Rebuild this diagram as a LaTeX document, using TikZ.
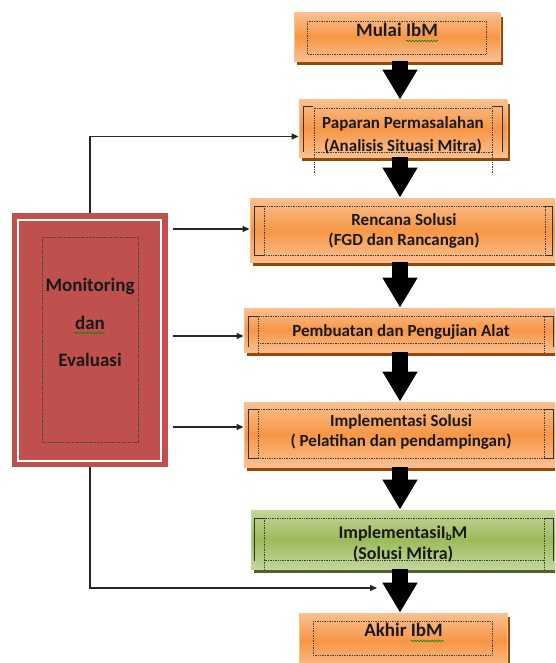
\documentclass[tikz,border=0pt]{standalone}
\usepackage{fontspec}
\setmainfont{Carlito}
\usetikzlibrary{arrows.meta,shadows,decorations.pathmorphing}

\definecolor{oranye}{HTML}{F79646}
\definecolor{oranyemuda}{HTML}{FAC08F}
\definecolor{oranyetua}{HTML}{984806}
\definecolor{hijau}{HTML}{9BBB59}
\definecolor{hijaumuda}{HTML}{C3D69B}
\definecolor{hijautua}{HTML}{4F6228}
\definecolor{merah}{HTML}{C0504D}

\tikzset{
  dasar/.style={line width=0.8pt, inner sep=0pt},
  kotakoranye/.style={dasar, draw=oranyemuda, top color=oranyemuda, bottom color=oranyemuda, middle color=oranye,
    drop shadow={shadow xshift=3pt, shadow yshift=-4pt, fill=oranyetua, opacity=1}},
  kotakhijau/.style={dasar, draw=hijaumuda, top color=hijaumuda, bottom color=hijaumuda, middle color=hijau,
    drop shadow={shadow xshift=3pt, shadow yshift=-4pt, fill=hijautua, opacity=1}},
  tulisan/.style={font=\fontsize{17}{20}\selectfont\bfseries, align=center, anchor=base, inner sep=0pt, text=black!90},
  tulisanbesar/.style={tulisan, font=\fontsize{19}{22}\selectfont\bfseries},
  titik/.style={draw=black!75, densely dotted, line width=0.7pt},
  kurung/.style={draw=black!80, line width=1pt},
  ejaan/.style={draw=green!55!black, line width=0.6pt, decorate, decoration={snake, segment length=3pt, amplitude=0.8pt}},
  panah/.style={draw=black!85, line width=1.4pt, -{Triangle[length=7pt,width=6pt]}},
  panahbesar/.style={draw=black, line width=16pt, -{Triangle[length=30pt,width=33pt]}}
}

\begin{document}
\begin{tikzpicture}[x=1pt,y=-1pt]
  \useasboundingbox (0,0) rectangle (555,663);
  \clip (0,0) rectangle (555,663);

  % kotak-kotak alur
  \node[kotakoranye, minimum width=206pt, minimum height=48pt] (mulai) at (397,37) {};
  \node[kotakoranye, minimum width=208pt, minimum height=57pt] (paparan) at (403,128.5) {};
  \node[kotakoranye, minimum width=312pt, minimum height=64pt] (rencana) at (406,230) {};
  \node[kotakoranye, minimum width=318pt, minimum height=44pt] (pembuatan) at (403,330) {};
  \node[kotakoranye, minimum width=318pt, minimum height=65pt] (implementasi) at (403,434.5) {};
  \node[kotakhijau, minimum width=311pt, minimum height=59pt] (mitra) at (406.5,539.5) {};
  \node[kotakoranye, minimum width=208pt, minimum height=56pt] (akhir) at (403,641) {};

  % monitoring
  \node[fill=merah, minimum width=156pt, minimum height=254pt, inner sep=0pt] (monev) at (90,340) {};
  \draw[white, line width=2pt] (18,220) rectangle (161,461);
  \draw[titik] (42,237) rectangle (138,442);

  % bingkai teks
  \draw[titik] (307,21) rectangle (486,54);
  \draw[titik] (314,108) rectangle (492,152) (314,152) -- (314,173) (492,152) -- (492,173);
  \draw[kurung] (313,107) -- (303,107) -- (303,152) (492,107) -- (502,107) -- (502,152);
  \draw[titik] (264,206) rectangle (545,255);
  \draw[kurung] (264,206) -- (254,206) -- (254,255) -- (264,255) (545,206) -- (552,206) -- (552,255) -- (545,255);
  \draw[titik] (258,316) rectangle (544,343) (258,343) -- (258,353) (544,343) -- (544,353);
  \draw[kurung] (258,316) -- (248,316) -- (248,347) (544,316) -- (553,316) -- (553,347);
  \draw[titik] (258,409) rectangle (544,458);
  \draw[kurung] (258,409) -- (248,409) -- (248,458) -- (258,458) (544,409) -- (553,409) -- (553,458) -- (544,458);
  \draw[titik] (264,518) rectangle (544,560) (264,560) -- (264,570) (544,560) -- (544,570);
  \draw[kurung] (264,518) -- (254,518) -- (254,561) (544,518) -- (553,518) -- (553,561);
  \draw[titik] (313,621) rectangle (492,655);

  % teks (anchor base = garis dasar baris terakhir)
  \node[tulisanbesar] (tmulai) at (397,37) {Mulai IbM};
  \node[tulisan] (tpaparan) at (403,152) {Paparan Permasalahan\\[3pt](Analisis Situasi Mitra)};
  \node[tulisan] (trencana) at (404,245) {Rencana Solusi\\(FGD dan Rancangan)};
  \node[tulisan] (tpembuatan) at (401,336.5) {Pembuatan dan Pengujian Alat};
  \node[tulisan] (timplementasi) at (401,446.5) {Implementasi Solusi\\( Pelatihan dan pendampingan)};
  \node[tulisan, font=\fontsize{18}{21}\selectfont\bfseries] (tmitra) at (403,559) {ImplementasiI\raisebox{-0.25ex}{\fontsize{11}{11}\selectfont b}M\\(Solusi Mitra)};
  \node[tulisanbesar] (takhir) at (403.5,636.5) {Akhir IbM};
  \node[tulisanbesar, font=\fontsize{19}{37.5}\selectfont\bfseries] (tmonev) at (90,366.5) {Monitoring\\dan\\Evaluasi};

  \draw[ejaan] (406,41) -- (438,41);
  \draw[ejaan] (411,641) -- (444,641);
  \draw[ejaan] (74,333) -- (105,333);

  % panah besar
  \coordinate (sumbu) at (400,0);
  \draw[panahbesar] (mulai.south -| sumbu) -- (paparan.north -| sumbu);
  \draw[panahbesar] (paparan.south -| sumbu) -- (rencana.north -| sumbu);
  \draw[panahbesar] (rencana.south -| sumbu) -- (pembuatan.north -| sumbu);
  \draw[panahbesar] (pembuatan.south -| sumbu) -- (implementasi.north -| sumbu);
  \draw[panahbesar] (implementasi.south -| sumbu) -- (mitra.north -| sumbu);
  \draw[panahbesar] (mitra.south -| sumbu) -- (akhir.north -| sumbu);

  % panah monitoring
  \coordinate (m1) at (173,229);
  \coordinate (m2) at (173,336);
  \coordinate (m3) at (173,427);
  \coordinate (m4) at (377,588);
  \draw[panah] (monev.north) |- ([yshift=-8pt]paparan.west);
  \draw[panah] (m1) -- (m1 -| rencana.west);
  \draw[panah] (m2) -- (m2 -| pembuatan.west);
  \draw[panah] (m3) -- (m3 -| implementasi.west);
  \draw[panah] (monev.south) |- (m4);
\end{tikzpicture}
\end{document}
